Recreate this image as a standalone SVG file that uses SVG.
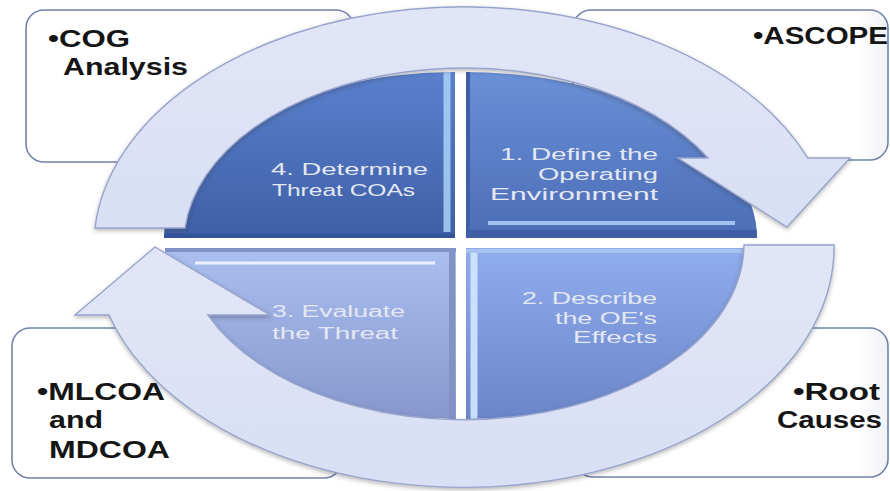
<svg xmlns="http://www.w3.org/2000/svg" width="890" height="491" viewBox="0 0 890 491">
<defs>
<style>
.box{fill:url(#boxg);stroke:#7282aa;stroke-width:1.6}
.btxt{font-family:"Liberation Sans",Arial,sans-serif;font-weight:bold;font-size:23px;fill:#151515}
.ctxt{font-family:"Liberation Sans",Arial,sans-serif;font-size:16px;fill:#e4e8f2}
.ring{fill:url(#ringg);stroke:#98a4cb;stroke-width:1.4;filter:url(#sh)}
.hl{fill:none;stroke-linecap:butt}
</style>
<linearGradient id="boxg" x1="0" y1="0" x2="1" y2="0">
<stop offset="0" stop-color="#ffffff"/><stop offset="0.9" stop-color="#ffffff"/><stop offset="1" stop-color="#f1f2f5"/>
</linearGradient>
<linearGradient id="ringg" x1="0" y1="0" x2="0" y2="1">
<stop offset="0" stop-color="#e1e6f7"/><stop offset="1" stop-color="#d9dff4"/>
</linearGradient>
<linearGradient id="q4g" x1="0" y1="0" x2="0" y2="1">
<stop offset="0" stop-color="#5a80ce"/><stop offset="1" stop-color="#3e5fa6"/>
</linearGradient>
<linearGradient id="q1g" x1="0" y1="0" x2="0" y2="1">
<stop offset="0" stop-color="#6a90d8"/><stop offset="1" stop-color="#4b6db6"/>
</linearGradient>
<linearGradient id="q3g" x1="0" y1="0" x2="0" y2="1">
<stop offset="0" stop-color="#aabff0"/><stop offset="1" stop-color="#8797cd"/>
</linearGradient>
<linearGradient id="q2g" x1="0" y1="0" x2="0" y2="1">
<stop offset="0" stop-color="#90adee"/><stop offset="1" stop-color="#6b85c8"/>
</linearGradient>
<filter id="sh" x="-10%" y="-10%" width="120%" height="120%">
<feDropShadow dx="0" dy="2" stdDeviation="2" flood-color="#333" flood-opacity="0.35"/>
</filter>
<clipPath id="c4"><path d="M455,238 L164,238 A291 166 0 0 1 455,72 Z"/></clipPath>
<clipPath id="c1"><path d="M466,238 L466,72 A291 166 0 0 1 757,238 Z"/></clipPath>
<clipPath id="c2"><path d="M466,248 L757,248 A291 171 0 0 1 466,419 Z"/></clipPath>
<clipPath id="c3"><path d="M456,248 L456,419 A291 171 0 0 1 165,248 Z"/></clipPath>
</defs>

<g id="box-cog">
<rect class="box" x="26" y="10" width="328" height="152" rx="18"/>
<text class="btxt"><tspan x="48" y="47" textLength="82" lengthAdjust="spacingAndGlyphs">•COG</tspan><tspan x="63" y="75" textLength="125" lengthAdjust="spacingAndGlyphs">Analysis</tspan></text>
</g>
<g id="box-ascope">
<rect class="box" x="573" y="10" width="315" height="150" rx="18"/>
<text class="btxt" x="753" y="44" textLength="135" lengthAdjust="spacingAndGlyphs">•ASCOPE</text>
</g>
<g id="box-mlcoa">
<rect class="box" x="12" y="328" width="330" height="150" rx="18"/>
<text class="btxt"><tspan x="37" y="400" textLength="128" lengthAdjust="spacingAndGlyphs">•MLCOA</tspan><tspan x="49" y="428" textLength="54" lengthAdjust="spacingAndGlyphs">and</tspan><tspan x="49" y="458" textLength="121" lengthAdjust="spacingAndGlyphs">MDCOA</tspan></text>
</g>
<g id="box-root">
<rect class="box" x="575" y="328" width="313" height="149" rx="18"/>
<text class="btxt"><tspan x="793" y="400" textLength="87" lengthAdjust="spacingAndGlyphs">•Root</tspan><tspan x="777" y="428" textLength="105" lengthAdjust="spacingAndGlyphs">Causes</tspan></text>
</g>

<g id="q4">
<path d="M455,238 L164,238 A291 166 0 0 1 455,72 Z" fill="url(#q4g)"/>
<g clip-path="url(#c4)">
<line class="hl" x1="447" y1="70" x2="447" y2="232" stroke="#a9d2f7" stroke-width="7" opacity="0.85"/>
<line class="hl" x1="160" y1="236" x2="456" y2="236" stroke="#34539a" stroke-width="5"/>
</g>
<text class="ctxt"><tspan x="271" y="175" textLength="157" lengthAdjust="spacingAndGlyphs">4. Determine</tspan><tspan x="272" y="196" textLength="143" lengthAdjust="spacingAndGlyphs">Threat COAs</tspan></text>
</g>
<g id="q1">
<path d="M466,238 L466,72 A291 166 0 0 1 757,238 Z" fill="url(#q1g)"/>
<g clip-path="url(#c1)">
<line class="hl" x1="488" y1="223" x2="735" y2="223" stroke="#a3c3f2" stroke-width="4"/>
<line class="hl" x1="466" y1="234" x2="760" y2="234" stroke="#3f5ea6" stroke-width="8"/>
<line class="hl" x1="468" y1="70" x2="468" y2="238" stroke="#3f5ea6" stroke-width="4"/>
</g>
<text class="ctxt"><tspan x="500" y="160" textLength="158" lengthAdjust="spacingAndGlyphs">1. Define the</tspan><tspan x="538" y="180" textLength="120" lengthAdjust="spacingAndGlyphs">Operating</tspan><tspan x="490" y="200" textLength="168" lengthAdjust="spacingAndGlyphs">Environment</tspan></text>
</g>
<g id="q2">
<path d="M466,248 L757,248 A291 171 0 0 1 466,419 Z" fill="url(#q2g)"/>
<g clip-path="url(#c2)">
<line class="hl" x1="474" y1="252" x2="474" y2="420" stroke="#d2e8ff" stroke-width="7" opacity="0.9"/>
<line class="hl" x1="466" y1="251" x2="760" y2="251" stroke="#aac2f0" stroke-width="4"/>
</g>
<text class="ctxt"><tspan x="522" y="304" textLength="135" lengthAdjust="spacingAndGlyphs">2. Describe</tspan><tspan x="555" y="324" textLength="102" lengthAdjust="spacingAndGlyphs">the OE's</tspan><tspan x="573" y="343" textLength="84" lengthAdjust="spacingAndGlyphs">Effects</tspan></text>
</g>
<g id="q3">
<path d="M456,248 L456,419 A291 171 0 0 1 165,248 Z" fill="url(#q3g)"/>
<g clip-path="url(#c3)">
<line class="hl" x1="160" y1="250" x2="456" y2="250" stroke="#7f93c8" stroke-width="4"/>
<line class="hl" x1="195" y1="263" x2="435" y2="263" stroke="#f2f6ff" stroke-width="3" opacity="0.9"/>
<line class="hl" x1="452" y1="250" x2="452" y2="420" stroke="#8392c6" stroke-width="6"/>
</g>
<text class="ctxt" fill="#f2f5fc"><tspan x="272" y="317" textLength="133" lengthAdjust="spacingAndGlyphs">3. Evaluate</tspan><tspan x="272" y="339" textLength="126" lengthAdjust="spacingAndGlyphs">the Threat</tspan></text>
</g>

<g id="connectors">
<path id="arrow-top" class="ring" d="M95,228 A370 240 0 0 1 807.6,158 L850,158 L787,227 L678,158 L708,158 A280 176 0 0 0 185,228 Z"/>
<path id="arrow-bottom" class="ring" d="M834,245 A370 240 0 0 1 109,315 L75,315 L155,247 L270,315 L208,315 A280 176 0 0 0 744,245 Z"/>
</g>
</svg>
